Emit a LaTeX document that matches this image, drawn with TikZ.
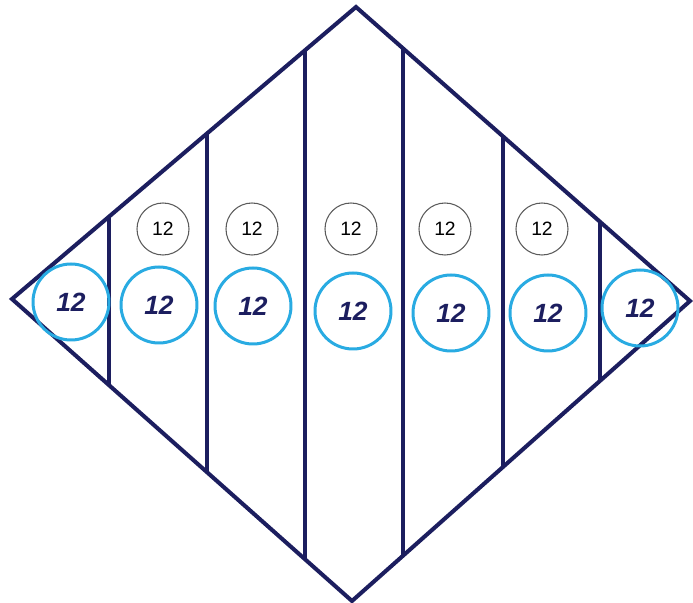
\documentclass[tikz,border=0pt]{standalone}
\usepackage{fontspec}
\setmainfont{Liberation Sans}
\usepackage{tikz}
\usetikzlibrary{calc}
\definecolor{kiteNavy}{RGB}{28,30,95}
\definecolor{ringBlue}{RGB}{41,171,226}
\definecolor{ringGray}{RGB}{90,90,90}
\tikzset{
  kite edge/.style={draw=kiteNavy,line width=2.3pt,line join=miter},
  divider/.style={draw=kiteNavy,line width=2.2pt},
  small ring/.style={circle,draw=ringGray,line width=0.6pt,minimum size=10.4mm,inner sep=0pt,font=\fontsize{11}{11}\selectfont,text=black},
  big ring/.style={circle,draw=ringBlue,line width=1.7pt,minimum size=15.2mm,inner sep=0pt,font=\fontsize{15}{15}\selectfont\bfseries\itshape,text=kiteNavy}
}
\begin{document}
\begin{tikzpicture}[x=0.2mm,y=-0.2mm]
  \useasboundingbox (0,0) rectangle (693,603);
  % diamond
  \coordinate (T) at (356,7);
  \coordinate (L) at (12,299);
  \coordinate (R) at (690,301);
  \coordinate (B) at (352,601);
  \draw[kite edge] (T) -- (R) -- (B) -- (L) -- cycle;
  % strips
  \foreach \x in {109,207,305}
    \draw[divider] (intersection of L--T and \x,0--\x,1) -- (intersection of L--B and \x,0--\x,1);
  \foreach \x in {403,503,600}
    \draw[divider] (intersection of T--R and \x,0--\x,1) -- (intersection of B--R and \x,0--\x,1);
  % upper row
  \foreach \x [count=\i] in {163,252,351,445,542}
    \node[small ring] (s\i) at (\x,229) {12};
  % lower row
  \foreach \x/\y [count=\i] in {71/302,159/305,253/306,353/311,451/313,548/313,640/308}
    \node[big ring] (b\i) at (\x,\y) {12};
\end{tikzpicture}
\end{document}
